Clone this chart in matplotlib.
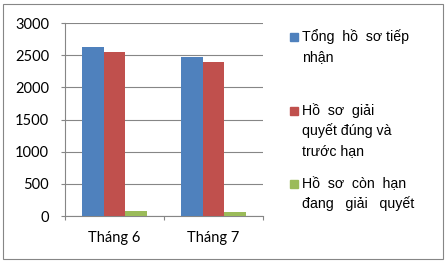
import numpy as np
import matplotlib.pyplot as plt
from matplotlib.patches import Rectangle

months = ['Tháng 6', 'Tháng 7']
tong_ho_so = [2630, 2475]
dung_han = [2550, 2395]
con_han = [75, 65]
series_labels = ['Tổng  hồ  sơ tiếp\nnhận', 'Hồ  sơ  giải\nquyết đúng và\ntrước hạn',
                 'Hồ  sơ  còn  hạn\nđang   giải   quyết']
colors = ['#4F81BD', '#C0504D', '#9BBB59']
grid_gray = '#868686'

W, H = 447, 264
fig = plt.figure(figsize=(W / 100, H / 100), dpi=100)

# outer chart border
fig.patches.append(Rectangle((3 / W, 5 / H), 440 / W, 255 / H, transform=fig.transFigure,
                             fill=False, edgecolor=grid_gray, linewidth=0.8))

ax = fig.add_axes([65 / W, 48 / H, 198 / W, 193 / H])
x = np.arange(len(months))
bw = 0.22
for i, vals in enumerate([tong_ho_so, dung_han, con_han]):
    ax.bar(x + (i - 1) * bw, vals, width=bw, color=colors[i], zorder=3)

ax.set_xlim(-0.5, 1.5)
ax.set_ylim(0, 3000)
ax.set_yticks(np.arange(0, 3001, 500))
ax.yaxis.grid(True, color=grid_gray, linewidth=0.8, zorder=0)
ax.set_xticks(x)
ax.set_xticklabels(months)
ax.set_xticks([-0.5, 0.5, 1.5], minor=True)
for s in ['top', 'right']:
    ax.spines[s].set_visible(False)
for s in ['left', 'bottom']:
    ax.spines[s].set_color(grid_gray)
    ax.spines[s].set_linewidth(0.8)
ax.tick_params(axis='y', direction='out', length=3, width=0.8, color=grid_gray, pad=8.5)
ax.tick_params(axis='x', which='major', length=0, pad=11)
ax.tick_params(axis='x', which='minor', direction='out', length=3, width=0.8, color=grid_gray)
for lab in ax.get_xticklabels() + ax.get_yticklabels():
    lab.set_fontfamily('Lato')
    lab.set_fontsize(10.5)
    lab.set_color('#000000')

# legend: square marker plus wrapped label lines
baselines = [41, 115, 188]
for lbl, col, y0 in zip(series_labels, colors, baselines):
    fig.patches.append(Rectangle((290 / W, (H - y0) / H), 8 / W, 8 / H,
                                 transform=fig.transFigure, color=col))
    for k, line in enumerate(lbl.split('\n')):
        fig.text(302 / W, (H - y0 - 20 * k) / H, line, fontfamily='Liberation Sans',
                 fontsize=10.2, va='baseline', ha='left')

fig.savefig('out.png', dpi=100)
